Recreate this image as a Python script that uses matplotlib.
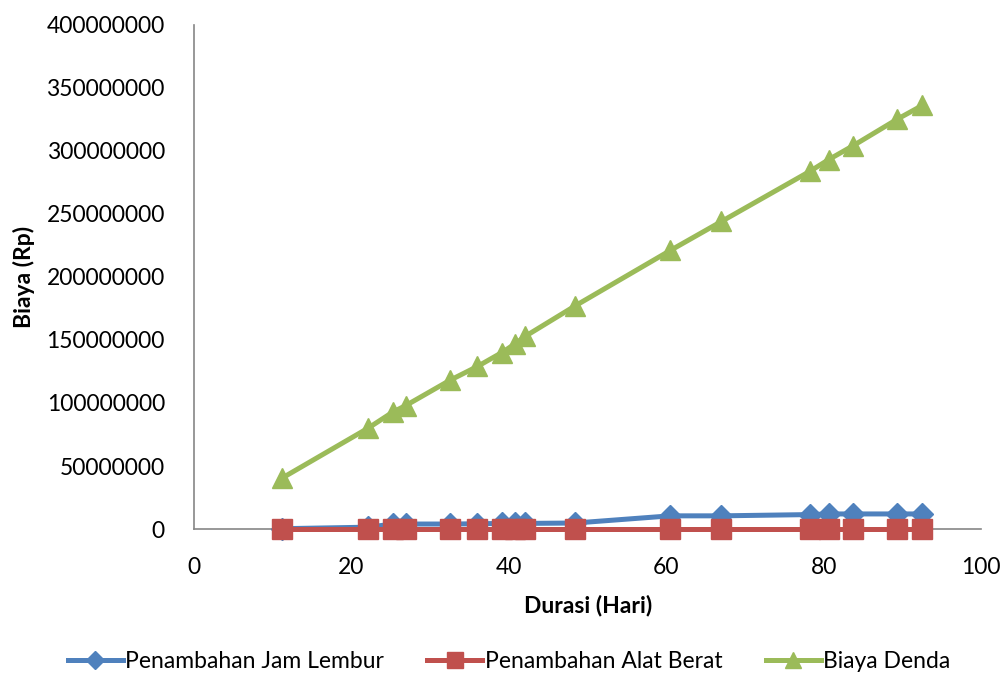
import matplotlib
matplotlib.use("Agg")
import matplotlib.pyplot as plt

# Durasi (hari) for each scenario
durasi = [11.2, 22.1, 25.3, 26.9, 32.5, 36.0, 39.1, 40.8, 42.1, 48.4,
          60.5, 67.0, 78.3, 80.6, 83.7, 89.3, 92.5]

# Biaya (Rp)
jam_lembur = [300000, 1500000, 4000000, 4000000, 4000000, 4200000, 4500000,
              4500000, 4500000, 4800000, 10500000, 10500000, 11500000,
              12000000, 12000000, 12000000, 12000000]
alat_berat = [200000, 200000, 200000, 200000, 200000, 200000, 200000,
              200000, 200000, 200000, 200000, 200000, 200000, 200000,
              200000, 200000, 200000]
biaya_denda = [40500000, 80000000, 93000000, 98000000, 118000000, 129000000,
               140000000, 147000000, 153000000, 177000000, 221000000,
               244000000, 284000000, 293000000, 304000000, 325000000,
               336000000]

plt.rcParams["font.family"] = ["Lato", "DejaVu Sans"]

fig = plt.figure(figsize=(10.08, 6.88), dpi=100)
ax = fig.add_axes([0.1925, 0.231, 0.781, 0.733])

ax.plot(durasi, jam_lembur, color="#4F81BD", lw=3.6, marker="D", ms=11,
        label="Penambahan Jam Lembur", clip_on=False, zorder=3)
ax.plot(durasi, alat_berat, color="#C0504D", lw=3.6, marker="s", ms=14,
        label="Penambahan Alat Berat", clip_on=False, zorder=4)
ax.plot(durasi, biaya_denda, color="#9BBB59", lw=3.6, marker="^", ms=15,
        label="Biaya Denda", clip_on=False, zorder=5)

ax.set_xlim(0, 100)
ax.set_ylim(0, 400000000)
ax.set_xticks(range(0, 101, 20))
ax.set_yticks(range(0, 400000001, 50000000))
ax.set_yticklabels([str(v) for v in range(0, 400000001, 50000000)])
ax.tick_params(length=0, labelsize=16.5)
ax.tick_params(axis="y", pad=21)
ax.tick_params(axis="x", pad=20)

for s in ["top", "right"]:
    ax.spines[s].set_visible(False)
for s in ["left", "bottom"]:
    ax.spines[s].set_color("#868686")
    ax.spines[s].set_linewidth(1.2)

ax.set_xlabel("Durasi (Hari)", fontsize=16.5, fontweight="bold", labelpad=12)
ax.set_ylabel("Biaya (Rp)", fontsize=16.5, fontweight="bold", labelpad=8)

fig.legend(loc="center", bbox_to_anchor=(0.505, 0.038), ncol=3, frameon=False,
           fontsize=16.5, handlelength=2.4, handletextpad=0.1,
           columnspacing=1.9, markerscale=0.8)

plt.savefig("out.png", dpi=100)
